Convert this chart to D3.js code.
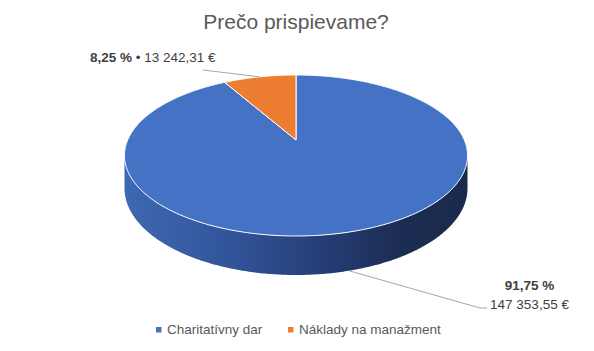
<!DOCTYPE html>
<html><head><meta charset="utf-8">
<script src="https://cdn.jsdelivr.net/npm/d3@7"></script>
<style>html,body{margin:0;padding:0;background:#fff;}svg{display:block;}</style>
</head><body>
<svg id="chart" width="594" height="351"></svg>
<script>
const title = "Prečo prispievame?";
const categories = ["Charitatívny dar", "Náklady na manažment"];
const values = [147353.55, 13242.31];
const colors = ["#4472C4", "#ED7D31"];

const W = 594, H = 351;
const svg = d3.select("#chart");
const font = "'Liberation Sans', Arial, sans-serif";

const loc = d3.formatLocale({decimal: ",", thousands: "\u00a0", grouping: [3], currency: ["", "\u00a0€"]});
const fmtMoney = loc.format(",.2f");
const fmtPct = loc.format(".2f");

const total = d3.sum(values);
const pie = d3.pie().sort(null).value(d => d).startAngle(0).endAngle(2 * Math.PI);
const arcs = pie(values);

// perspective projection of the disc
const cx = 296, cy = 140, A = 168.3, B = 77.5, p = 0.1926, H0 = 31.5;
function proj(theta, bottom) {
  const u = Math.sin(theta), v = -Math.cos(theta), w = 1 - p * v;
  return [cx + A * u / w, cy + B * v / w + (bottom ? H0 / w : 0)];
}
function arcPoints(a0, a1, bottom) {
  const n = Math.max(2, Math.ceil(Math.abs(a1 - a0) / 0.01));
  return d3.range(n + 1).map(i => proj(a0 + (a1 - a0) * i / n, bottom));
}

// gradient for side wall
const defs = svg.append("defs");
const grad = defs.append("linearGradient").attr("id", "wall")
  .attr("gradientUnits", "userSpaceOnUse")
  .attr("x1", 124).attr("y1", 0).attr("x2", 468).attr("y2", 0);
[[0, "#3f68b3"], [0.3, "#32559a"], [0.55, "#26407a"], [0.8, "#1c2d54"], [1, "#1a2a4b"]]
  .forEach(([o, c]) => grad.append("stop").attr("offset", o).attr("stop-color", c));

// side wall (front half)
const tR = Math.acos(-p), tL = 2 * Math.PI - tR;
const wallTop = arcPoints(tR, tL, false);
const wallBot = arcPoints(tL, tR, true);
const line = d3.line();
svg.append("path")
  .attr("d", line(wallTop.concat(wallBot)) + "Z")
  .attr("fill", "url(#wall)");

// top faces
arcs.forEach((a, i) => {
  const pts = [proj(0, false).map((d, k) => k === 0 ? cx : cy)].concat(arcPoints(a.startAngle, a.endAngle, false));
  svg.append("path")
    .attr("d", line(pts) + "Z")
    .attr("fill", colors[i])
    .attr("stroke", "#fff").attr("stroke-width", 1).attr("stroke-linejoin", "round");
});

// leader lines
const midO = (arcs[1].startAngle + arcs[1].endAngle) / 2;
const oAnchor = proj(midO, false);
svg.append("path").attr("d", line([[203, 70], oAnchor]))
  .attr("fill", "none").attr("stroke", "#a6a6a6").attr("stroke-width", 1);
const midB = (arcs[0].startAngle + arcs[0].endAngle) / 2;
const bAnchor = proj(midB, true);
svg.append("path").attr("d", line([bAnchor, [480, 308], [487, 308]]))
  .attr("fill", "none").attr("stroke", "#a6a6a6").attr("stroke-width", 1);

// labels
const lblO = svg.append("text").attr("x", 90).attr("y", 61.5)
  .attr("font-family", font).attr("font-size", 13.5).attr("fill", "#404040");
lblO.append("tspan").attr("font-weight", "bold").text(fmtPct(values[1] / total * 100) + "\u00a0%");
lblO.append("tspan").text(" • " + fmtMoney(values[1]) + "\u00a0€");

const lblB = svg.append("text").attr("font-family", font).attr("font-size", 13.5)
  .attr("fill", "#404040").attr("text-anchor", "middle");
lblB.append("tspan").attr("x", 529.5).attr("y", 289.5).attr("font-weight", "bold")
  .text(fmtPct(values[0] / total * 100) + "\u00a0%");
lblB.append("tspan").attr("x", 529.5).attr("y", 309).text(fmtMoney(values[0]) + "\u00a0€");

// title
svg.append("text").attr("x", 296).attr("y", 29).attr("text-anchor", "middle")
  .attr("font-family", font).attr("font-size", 21).attr("fill", "#595959").text(title);

// legend
const legX = [156, 288];
categories.forEach((c, i) => {
  svg.append("rect").attr("x", legX[i]).attr("y", 327).attr("width", 5.5).attr("height", 5.5).attr("fill", colors[i]);
  svg.append("text").attr("x", legX[i] + 11).attr("y", 333.5)
    .attr("font-family", font).attr("font-size", 13.5).attr("fill", "#595959").text(c);
});
</script>
</body></html>
